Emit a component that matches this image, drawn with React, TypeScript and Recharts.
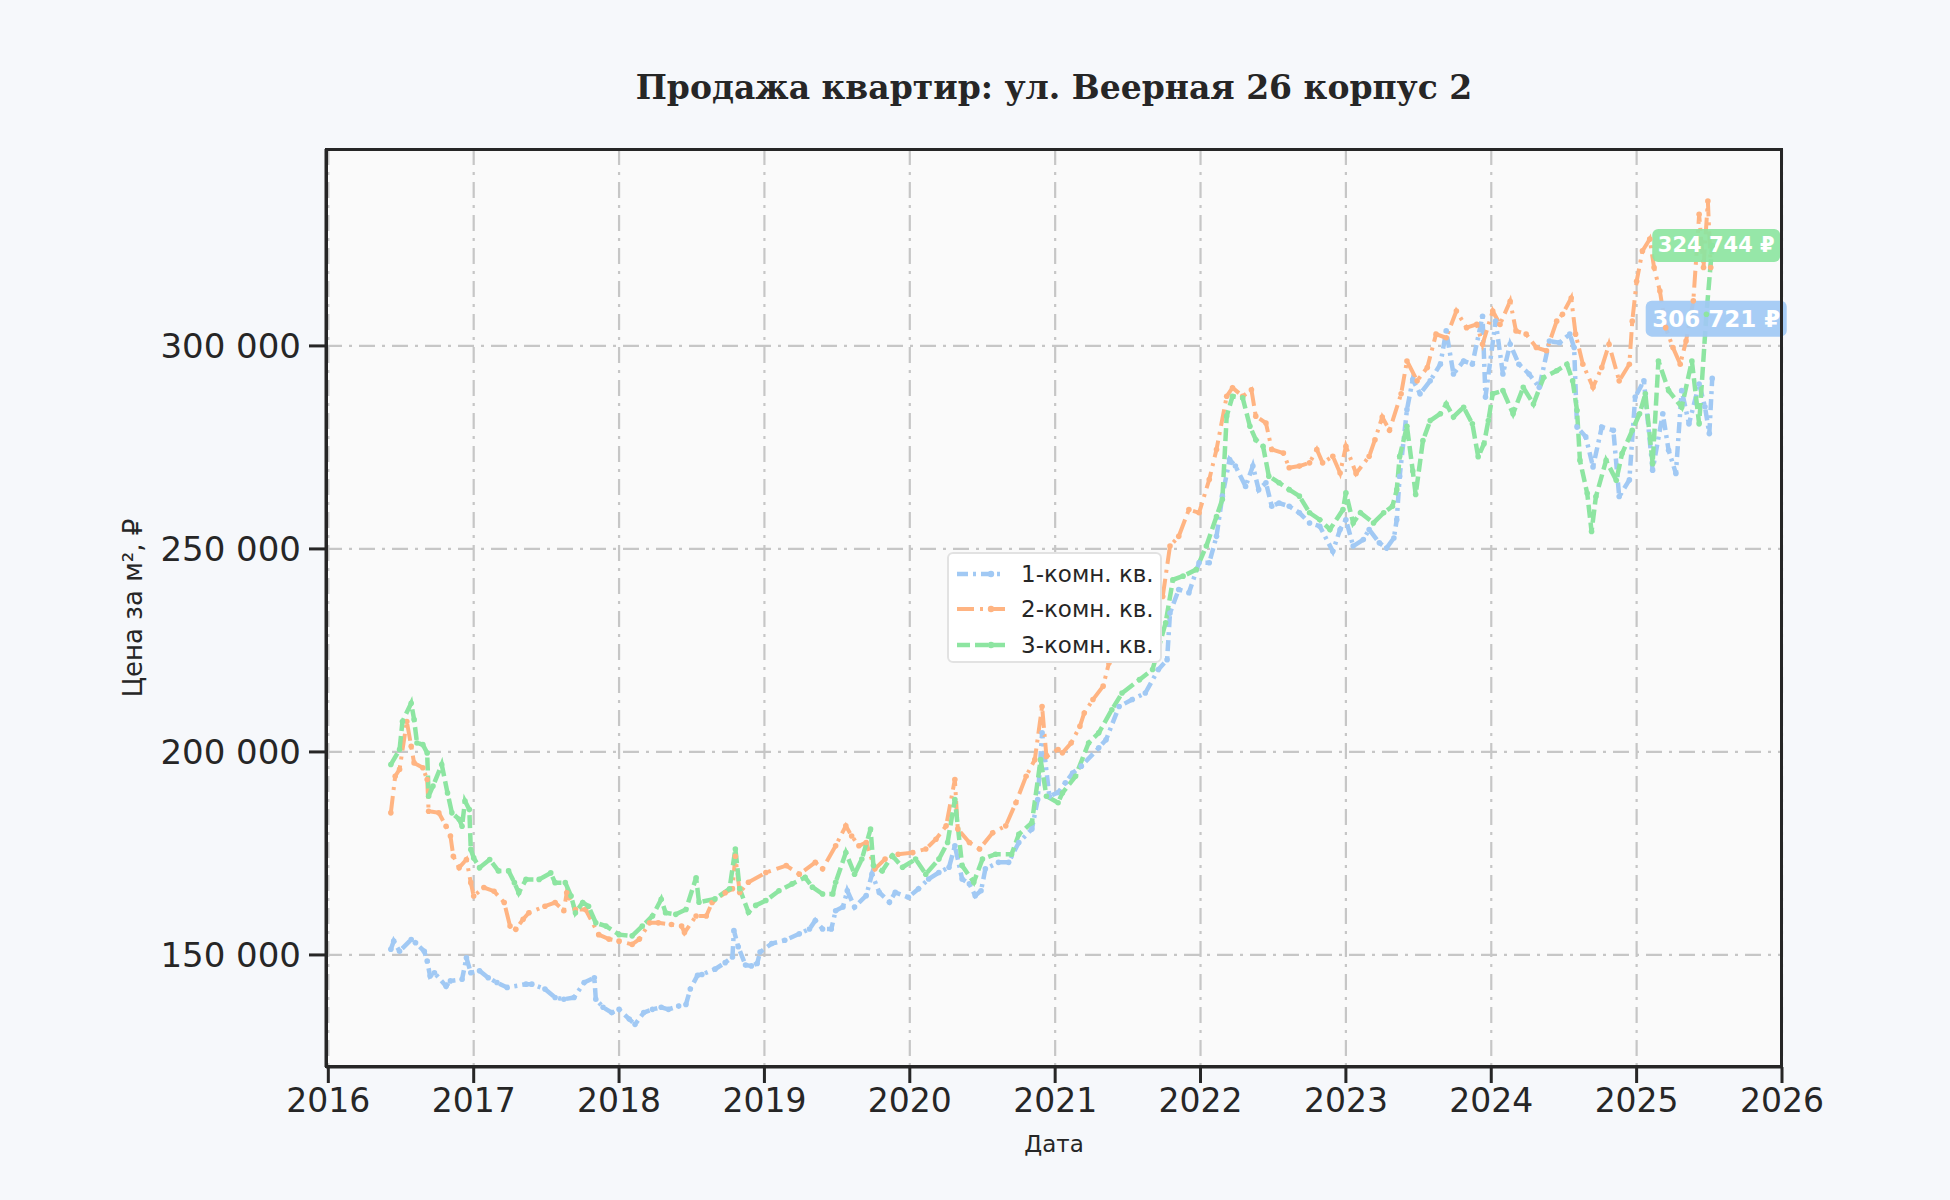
import { LineChart, Line, XAxis, YAxis, CartesianGrid, Legend, ReferenceDot } from 'recharts'

document.body.style.margin = '0'

// [decimal year, price per m²]
const ONE_ROOM: [number, number][] = [
    [2016.43, 151400], [2016.45, 153400], [2016.49, 150900], [2016.57, 153800], [2016.6, 153000],
    [2016.66, 150900], [2016.68, 148500], [2016.7, 144800], [2016.73, 145600], [2016.81, 142300],
    [2016.84, 143600], [2016.92, 144000], [2016.95, 149300], [2016.98, 145600], [2017.04, 146100],
    [2017.1, 144400], [2017.16, 143200], [2017.23, 142000], [2017.36, 142800], [2017.4, 142800],
    [2017.49, 141600], [2017.56, 139500], [2017.62, 139100], [2017.69, 139500], [2017.76, 143200],
    [2017.83, 144400], [2017.84, 139100], [2017.89, 137100], [2017.95, 135800], [2018.0, 136600],
    [2018.07, 134200], [2018.11, 132900], [2018.17, 135800], [2018.23, 136600], [2018.29, 137100],
    [2018.34, 136600], [2018.41, 137400], [2018.46, 137800], [2018.49, 141600], [2018.54, 145000],
    [2018.57, 145200], [2018.66, 146500], [2018.73, 148100], [2018.78, 149500], [2018.79, 156000],
    [2018.82, 152000], [2018.87, 147500], [2018.91, 147300], [2018.95, 147900], [2018.97, 150700],
    [2019.05, 152800], [2019.14, 153600], [2019.24, 155200], [2019.31, 156400], [2019.35, 158500],
    [2019.4, 156400], [2019.46, 156400], [2019.49, 160900], [2019.54, 161800], [2019.57, 165800],
    [2019.62, 161800], [2019.7, 164600], [2019.74, 169900], [2019.79, 165400], [2019.86, 163000],
    [2019.9, 165400], [2019.99, 164200], [2020.06, 166300], [2020.13, 168700], [2020.2, 170300],
    [2020.27, 171600], [2020.31, 176900], [2020.36, 168700], [2020.41, 167500], [2020.45, 164600],
    [2020.49, 165800], [2020.52, 171200], [2020.61, 172800], [2020.68, 172800], [2020.75, 177700],
    [2020.84, 181000], [2020.88, 188300], [2020.91, 204700], [2020.96, 189100], [2021.02, 190000],
    [2021.07, 192400], [2021.12, 194800], [2021.18, 196500], [2021.3, 201000], [2021.35, 203000],
    [2021.44, 211200], [2021.53, 212900], [2021.62, 214500], [2021.71, 220300], [2021.77, 222700],
    [2021.79, 234200], [2021.85, 240000], [2021.92, 239200], [2021.99, 246600], [2022.06, 246600],
    [2022.11, 253100], [2022.15, 263000], [2022.2, 272000], [2022.24, 270400], [2022.31, 265400],
    [2022.36, 270400], [2022.4, 264600], [2022.45, 266300], [2022.49, 260500], [2022.54, 261300],
    [2022.61, 260500], [2022.68, 258900], [2022.75, 256400], [2022.82, 255600], [2022.91, 249400],
    [2022.96, 254800], [2023.0, 257200], [2023.05, 250700], [2023.12, 252300], [2023.16, 254800],
    [2023.23, 251500], [2023.28, 250200], [2023.33, 252700], [2023.35, 257200], [2023.37, 267900],
    [2023.42, 284300], [2023.46, 291700], [2023.51, 288200], [2023.58, 291400], [2023.65, 295500],
    [2023.69, 303700], [2023.74, 293100], [2023.81, 296300], [2023.87, 295500], [2023.94, 307300],
    [2023.96, 287400], [2024.03, 306100], [2024.08, 293100], [2024.13, 300400], [2024.19, 295500],
    [2024.26, 293100], [2024.33, 289800], [2024.4, 301200], [2024.47, 300800], [2024.54, 302900],
    [2024.57, 299600], [2024.59, 280000], [2024.65, 277600], [2024.7, 270200], [2024.76, 280000],
    [2024.84, 279200], [2024.88, 262900], [2024.95, 267000], [2024.99, 287400], [2025.05, 291400],
    [2025.11, 269400], [2025.18, 283300], [2025.22, 274300], [2025.27, 268600], [2025.31, 289000],
    [2025.36, 280800], [2025.43, 290600], [2025.47, 285000], [2025.5, 278400], [2025.52, 292000],
]

const TWO_ROOM: [number, number][] = [
    [2016.43, 185000], [2016.46, 194000], [2016.49, 195700], [2016.54, 207500], [2016.57, 201400],
    [2016.59, 197300], [2016.65, 196100], [2016.68, 193200], [2016.69, 185400], [2016.76, 185000],
    [2016.81, 181700], [2016.84, 179300], [2016.86, 174300], [2016.9, 171500], [2016.95, 173500],
    [2016.98, 167800], [2017.0, 164500], [2017.07, 166600], [2017.14, 165700], [2017.21, 162900],
    [2017.25, 157100], [2017.29, 156300], [2017.34, 158800], [2017.38, 160400], [2017.49, 162000],
    [2017.56, 162900], [2017.62, 160900], [2017.64, 165300], [2017.7, 161200], [2017.77, 161200],
    [2017.86, 155000], [2017.93, 153900], [2018.0, 153400], [2018.09, 152600], [2018.14, 153900],
    [2018.21, 157900], [2018.27, 157900], [2018.36, 157500], [2018.43, 157100], [2018.45, 155500],
    [2018.53, 159600], [2018.6, 159600], [2018.64, 162900], [2018.73, 165300], [2018.78, 166300],
    [2018.8, 174300], [2018.83, 165400], [2018.89, 167900], [2019.01, 170300], [2019.15, 172000],
    [2019.24, 169900], [2019.35, 172800], [2019.4, 171200], [2019.49, 176900], [2019.56, 181800],
    [2019.6, 179300], [2019.65, 176900], [2019.7, 177700], [2019.76, 171200], [2019.83, 173600],
    [2019.92, 174800], [2020.02, 175200], [2020.11, 176100], [2020.18, 178500], [2020.25, 181800],
    [2020.31, 193200], [2020.33, 181000], [2020.41, 177700], [2020.48, 176100], [2020.57, 180100],
    [2020.66, 181800], [2020.73, 187500], [2020.8, 194000], [2020.86, 198100], [2020.91, 211200],
    [2020.94, 198900], [2021.02, 200600], [2021.05, 199800], [2021.11, 202200], [2021.17, 206300],
    [2021.2, 209600], [2021.26, 212900], [2021.33, 216200], [2021.37, 221900], [2021.49, 226800],
    [2021.56, 232600], [2021.65, 236700], [2021.74, 238300], [2021.79, 250700], [2021.85, 253100],
    [2021.92, 259700], [2021.99, 258900], [2022.06, 267100], [2022.11, 274500], [2022.18, 287600],
    [2022.22, 289700], [2022.29, 287600], [2022.35, 289200], [2022.38, 282700], [2022.45, 281000],
    [2022.49, 274500], [2022.57, 273600], [2022.61, 270000], [2022.68, 270400], [2022.75, 271200],
    [2022.8, 274500], [2022.84, 271200], [2022.91, 272800], [2022.96, 268700], [2023.0, 275300],
    [2023.07, 268600], [2023.16, 272800], [2023.2, 276900], [2023.25, 282500], [2023.3, 279200],
    [2023.38, 288200], [2023.42, 296300], [2023.49, 291400], [2023.56, 294700], [2023.62, 302900],
    [2023.69, 302000], [2023.76, 308600], [2023.83, 304500], [2023.9, 305300], [2023.94, 300400],
    [2024.01, 308600], [2024.06, 305300], [2024.13, 311000], [2024.17, 303700], [2024.24, 302900],
    [2024.31, 299600], [2024.38, 298800], [2024.45, 306100], [2024.49, 307800], [2024.55, 311800],
    [2024.58, 302900], [2024.63, 295500], [2024.7, 289800], [2024.76, 294700], [2024.81, 300400],
    [2024.88, 291400], [2024.95, 295500], [2024.97, 306100], [2025.0, 315900], [2025.04, 323400],
    [2025.09, 326300], [2025.12, 319300], [2025.16, 313500], [2025.2, 304500], [2025.25, 299600],
    [2025.3, 295500], [2025.34, 301200], [2025.39, 311100], [2025.43, 332400], [2025.46, 319300],
    [2025.49, 335700], [2025.51, 319300],
]

const THREE_ROOM: [number, number][] = [
    [2016.43, 196900], [2016.49, 200600], [2016.51, 207500], [2016.57, 212000], [2016.59, 208000],
    [2016.61, 202200], [2016.65, 201800], [2016.68, 199750], [2016.69, 189100], [2016.72, 191600],
    [2016.78, 196900], [2016.82, 189900], [2016.85, 185000], [2016.9, 183400], [2016.92, 181700],
    [2016.94, 187900], [2016.97, 185800], [2016.98, 176000], [2017.0, 173900], [2017.04, 171500],
    [2017.11, 173500], [2017.17, 170700], [2017.24, 170700], [2017.28, 167800], [2017.31, 165300],
    [2017.36, 168600], [2017.45, 168600], [2017.53, 170200], [2017.56, 167800], [2017.63, 167800],
    [2017.67, 164500], [2017.7, 160400], [2017.75, 162900], [2017.79, 162000], [2017.84, 157900],
    [2017.91, 157100], [2018.0, 155000], [2018.09, 154700], [2018.16, 157100], [2018.23, 159600],
    [2018.29, 163700], [2018.32, 160400], [2018.39, 160000], [2018.46, 161200], [2018.53, 169000],
    [2018.55, 163000], [2018.66, 163800], [2018.76, 166300], [2018.8, 176100], [2018.83, 166300],
    [2018.89, 160500], [2018.94, 162200], [2019.01, 163400], [2019.1, 165800], [2019.19, 167500],
    [2019.28, 169100], [2019.33, 166700], [2019.4, 165000], [2019.47, 165000], [2019.49, 167900],
    [2019.56, 175200], [2019.62, 169900], [2019.67, 173600], [2019.73, 181000], [2019.75, 172000],
    [2019.81, 170700], [2019.88, 174400], [2019.95, 171600], [2020.04, 173600], [2020.11, 169900],
    [2020.2, 173600], [2020.26, 177700], [2020.31, 188300], [2020.36, 172000], [2020.44, 167900],
    [2020.5, 173600], [2020.59, 174800], [2020.7, 174800], [2020.75, 179700], [2020.84, 182600],
    [2020.9, 198100], [2020.94, 189100], [2021.02, 187500], [2021.05, 189900], [2021.14, 194000],
    [2021.23, 202200], [2021.3, 204700], [2021.39, 210400], [2021.46, 214500], [2021.58, 217800],
    [2021.67, 220300], [2021.76, 231800], [2021.81, 242400], [2021.88, 243300], [2021.97, 244900],
    [2022.04, 250700], [2022.11, 258000], [2022.15, 262200], [2022.18, 282700], [2022.22, 287600],
    [2022.29, 287200], [2022.34, 280200], [2022.38, 276900], [2022.43, 275300], [2022.47, 267900],
    [2022.54, 266300], [2022.61, 264600], [2022.68, 263000], [2022.75, 258900], [2022.82, 257200],
    [2022.89, 254800], [2022.98, 259700], [2023.0, 263800], [2023.05, 256400], [2023.1, 258900],
    [2023.19, 256400], [2023.26, 258900], [2023.32, 260500], [2023.35, 264600], [2023.37, 272800],
    [2023.42, 280200], [2023.46, 269200], [2023.48, 263400], [2023.53, 276700], [2023.58, 281600],
    [2023.65, 283300], [2023.69, 285700], [2023.74, 282500], [2023.81, 284900], [2023.87, 280800],
    [2023.91, 272700], [2023.95, 275900], [2023.98, 281600], [2024.01, 288200], [2024.08, 289000],
    [2024.15, 283300], [2024.22, 289800], [2024.29, 285700], [2024.36, 292200], [2024.45, 293900],
    [2024.52, 295500], [2024.56, 291400], [2024.59, 284100], [2024.61, 271800], [2024.66, 263700],
    [2024.69, 254300], [2024.72, 262900], [2024.79, 271800], [2024.86, 266900], [2024.9, 273500],
    [2024.97, 279200], [2025.02, 283300], [2025.06, 288200], [2025.11, 271000], [2025.15, 296300],
    [2025.22, 289000], [2025.31, 284900], [2025.38, 296300], [2025.43, 280800], [2025.48, 307800],
    [2025.52, 324744],
]

const YEAR_TICKS = [2016, 2017, 2018, 2019, 2020, 2021, 2022, 2023, 2024, 2025, 2026]
const PRICE_TICKS = [150000, 200000, 250000, 300000]

// last-value tags shown at the right edge
const LAST_DATE = 2025.52
const ONE_ROOM_LAST = 306721
const THREE_ROOM_LAST = 324744

const SERIES = [
    { name: '1-комн. кв.', data: ONE_ROOM, color: '#a1c9f4', dash: '11 5 3 5', width: 4.5 },
    { name: '2-комн. кв.', data: TWO_ROOM, color: '#ffb482', dash: '17 6 3 6', width: 4 },
    { name: '3-комн. кв.', data: THREE_ROOM, color: '#8de5a1', dash: '13 5', width: 4.5 },
]

const INK = '#262626'
const FONT = '"DejaVu Sans", sans-serif'

const fmt = (n: number) => String(n).replace(/\B(?=(\d{3})+(?!\d))/g, ' ')

const toPoints = (rows: [number, number][]) => rows.map(([year, price]) => ({ year, price }))

const priceTag = (color: string, text: string, w: number, h: number, fontSize: number) => (props: any) => {
    const { cx, cy } = props
    const x = cx + 4
    return (
        <g>
            <rect x={x - w / 2} y={cy - h / 2} width={w} height={h} rx={6} fill={color} fillOpacity={0.92} />
            <text x={x} y={cy} textAnchor="middle" dominantBaseline="central" fill="#fff"
                  fontFamily={FONT} fontWeight="bold" fontSize={fontSize}>{text}</text>
        </g>
    )
}

function LegendBox() {
    return (
        <div style={{
            background: '#fff', border: '2px solid #e2e2e2', borderRadius: 6,
            padding: '2px 0 2px 8px', boxSizing: 'border-box', width: 215, height: 111
        }}>
            {SERIES.map(s => (
                <div key={s.name} style={{ display: 'flex', alignItems: 'center', height: 35.5, whiteSpace: 'nowrap' }}>
                    <svg width={50} height={12} style={{ marginRight: 14, flex: 'none' }}>
                        <line x1={0} y1={6} x2={48} y2={6} stroke={s.color} strokeWidth={s.width}
                              strokeDasharray={s.dash} />
                        <circle cx={34} cy={6} r={3.2} fill={s.color} />
                    </svg>
                    <span style={{ fontFamily: FONT, fontSize: 23, color: INK }}>{s.name}</span>
                </div>
            ))}
        </div>
    )
}

export default function App() {
    return (
        <div style={{ position: 'relative', width: 1950, height: 1200, background: '#f6f8fb' }}>
            <div style={{
                position: 'absolute', left: 1054, top: 87, transform: 'translate(-50%, -50%)',
                fontFamily: '"DejaVu Serif", serif', fontWeight: 'bold', fontSize: 33, color: INK, whiteSpace: 'nowrap'
            }}>
                Продажа квартир: ул. Веерная 26 корпус 2
            </div>

            <LineChart width={1950} height={1200} margin={{ top: 149, right: 168, bottom: 73, left: 146 }}>
                <CartesianGrid stroke="#c6c6c6" strokeWidth={2.2} strokeDasharray="16 7 3 7"
                               fill="#fafafa" horizontalValues={PRICE_TICKS} verticalValues={YEAR_TICKS} />
                <XAxis type="number" dataKey="year" domain={[2015.984, 2026]} ticks={YEAR_TICKS}
                       allowDataOverflow height={60} tickSize={16} tickMargin={6}
                       axisLine={{ stroke: INK, strokeWidth: 3 }} tickLine={{ stroke: INK, strokeWidth: 3 }}
                       tick={{ fill: INK, fontSize: 33, fontFamily: FONT }} />
                <YAxis type="number" dataKey="price" domain={[122400, 348500]} ticks={PRICE_TICKS}
                       allowDataOverflow width={180} tickSize={17} tickMargin={8}
                       axisLine={{ stroke: INK, strokeWidth: 3 }} tickLine={{ stroke: INK, strokeWidth: 3 }}
                       tick={{ fill: INK, fontSize: 34, fontFamily: FONT }} tickFormatter={fmt} />
                {SERIES.map(s => (
                    <Line key={s.name} name={s.name} data={toPoints(s.data)} dataKey="price" type="linear"
                          stroke={s.color} strokeWidth={s.width} strokeDasharray={s.dash}
                          dot={{ r: 2.8, fill: s.color, stroke: 'none' }} activeDot={false}
                          isAnimationActive={false} />
                ))}
                <Legend layout="vertical" align="center" verticalAlign="middle" content={() => <LegendBox />}
                        wrapperStyle={{ left: 947, top: 552, width: 215 }} />
                <ReferenceDot x={LAST_DATE} y={THREE_ROOM_LAST} ifOverflow="visible"
                              shape={priceTag('#8de5a1', `${fmt(THREE_ROOM_LAST)} ₽`, 128, 33, 21)} />
                <ReferenceDot x={LAST_DATE} y={ONE_ROOM_LAST} ifOverflow="visible"
                              shape={priceTag('#a1c9f4', `${fmt(ONE_ROOM_LAST)} ₽`, 141, 36, 23)} />
            </LineChart>

            {/* box around the plot area */}
            <div style={{
                position: 'absolute', left: 325, top: 148, width: 1458, height: 920,
                border: `3px solid ${INK}`, boxSizing: 'border-box', pointerEvents: 'none'
            }} />

            <div style={{
                position: 'absolute', left: 133, top: 608, transform: 'translate(-50%, -50%) rotate(-90deg)',
                fontFamily: FONT, fontSize: 26, color: INK, whiteSpace: 'nowrap'
            }}>
                Цена за м², ₽
            </div>
            <div style={{
                position: 'absolute', left: 1054, top: 1144, transform: 'translate(-50%, -50%)',
                fontFamily: FONT, fontSize: 23, color: INK, whiteSpace: 'nowrap'
            }}>
                Дата
            </div>
        </div>
    )
}
